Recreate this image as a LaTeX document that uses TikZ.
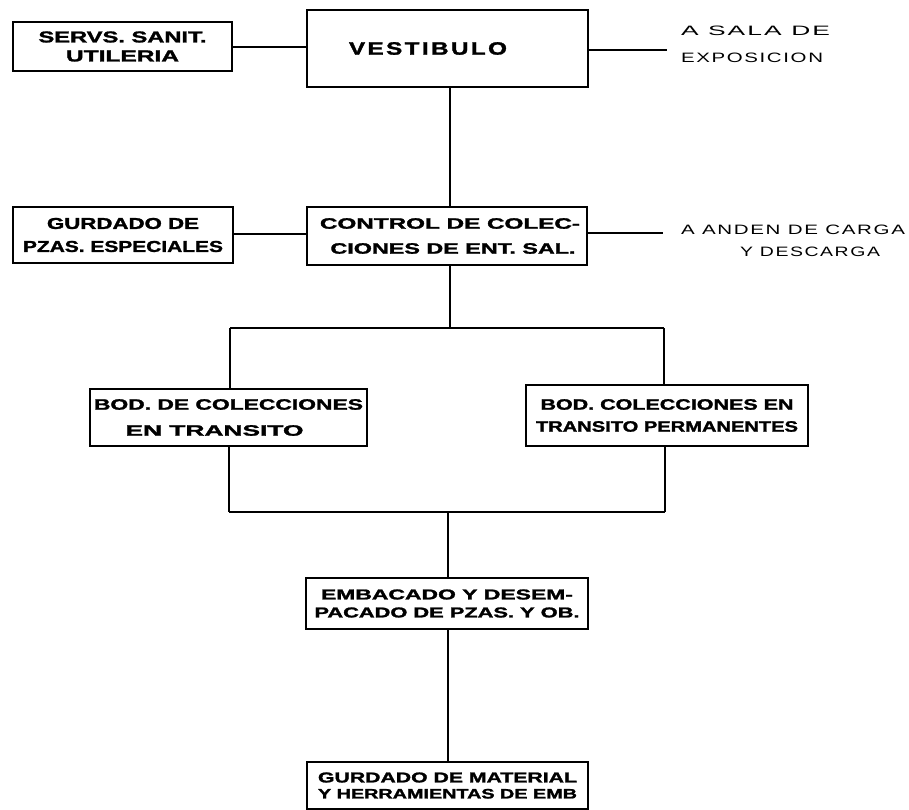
\documentclass[tikz,border=0pt]{standalone}
\usepackage{fontspec}
\usepackage{graphicx}
\newfontfamily\bxf[LetterSpace=0,FakeBold=1.5]{Liberation Sans}
\newfontfamily\vxf[LetterSpace=10,FakeBold=1.5]{Liberation Sans}
\newfontfamily\lbf[LetterSpace=8]{Liberation Sans}
\newcommand\T[3]{\resizebox{#1pt}{#2pt}{#3}}
\begin{document}
\begin{tikzpicture}[x=1pt,y=-1pt,
  box/.style={draw,line width=2.8pt,inner sep=0pt,outer sep=0pt,align=center,
    font=\bxf\bfseries},
  lbl/.style={inner sep=0pt,outer sep=0pt,align=left,anchor=west,font=\lbf},
  conn/.style={line width=1.2pt}]
\path[use as bounding box] (0,0) rectangle (909,810);

% boxes
\node[box,minimum width=219pt,minimum height=49pt,
  font=\bxf\bfseries\fontsize{10}{19}\selectfont] (serv) at (122.5,46.5)
  {\T{168}{11}{SERVS. SANIT.}\\\T{113}{11}{UTILERIA}};
\node[box,line width=2.2pt,minimum width=281pt,minimum height=77pt,font=\vxf\bfseries] (vest) at (447.5,48.5)
  {\hspace*{-39pt}\T{158}{12.5}{VESTIBULO}};
\node[box,minimum width=220pt,minimum height=56pt,
  font=\bxf\bfseries\fontsize{10}{23}\selectfont] (gurd) at (123,235)
  {\T{152}{11}{GURDADO DE}\\\T{200}{11}{PZAS. ESPECIALES}};
\node[box,minimum width=280pt,minimum height=58pt,
  font=\bxf\bfseries\fontsize{10}{25}\selectfont] (ctrl) at (447,236)
  {\hspace*{6pt}\T{260}{10.5}{CONTROL DE COLEC-}\\\hspace*{12pt}\T{245}{10.5}{CIONES DE ENT. SAL.}};
\node[box,minimum width=277pt,minimum height=57pt,
  font=\bxf\bfseries\fontsize{10}{26}\selectfont] (bod1) at (228.5,417.5)
  {\T{269}{10.5}{BOD. DE COLECCIONES}\\\hspace*{-28pt}\T{178}{10.5}{EN TRANSITO}};
\node[box,minimum width=282pt,minimum height=61pt,
  font=\bxf\bfseries\fontsize{10}{22}\selectfont] (bod2) at (667,415.5)
  {\T{253}{10.5}{BOD. COLECCIONES EN}\\\T{262}{10.5}{TRANSITO PERMANENTES}};
\node[box,minimum width=282pt,minimum height=51pt,
  font=\bxf\bfseries\fontsize{10}{18}\selectfont] (emb) at (447,603.5)
  {\T{252}{10}{EMBACADO Y DESEM-}\\\T{265}{10}{PACADO DE PZAS. Y OB.}};
\node[box,minimum width=281pt,minimum height=47pt,
  font=\bxf\bfseries\fontsize{10}{16}\selectfont] (mat) at (447.5,785.5)
  {\T{259}{10}{GURDADO DE MATERIAL}\\\T{259}{9.5}{Y HERRAMIENTAS DE EMB}};

% labels
\node[lbl,font=\lbf\fontsize{10}{27}\selectfont] (sala) at (681,44.5)
  {\T{149}{9.5}{A SALA DE}\\\T{142}{9.5}{EXPOSICION}};
\node[lbl,font=\lbf\fontsize{10}{22}\selectfont] (anden) at (681,241)
  {\T{224}{9.5}{A ANDEN DE CARGA}\\\hspace*{59pt}\T{140}{9.5}{Y DESCARGA}};

% connector points
\coordinate (salaend) at (667,50);
\coordinate (andenend) at (663,233);
\coordinate (j1) at (450,328);
\coordinate (j1l) at (230,328);
\coordinate (j1r) at (664,328);
\coordinate (j2) at (448,512);
\coordinate (j2l) at (229,512);
\coordinate (j2r) at (665,512);

% connectors
\draw[conn] (serv.east |- 0,47) -- (vest.west |- 0,47);
\draw[conn] (vest.east |- salaend) -- (salaend);
\draw[conn] (vest.south -| j1) -- (ctrl.north -| j1);
\draw[conn] (gurd.east |- 0,234) -- (ctrl.west |- 0,234);
\draw[conn] (ctrl.east |- andenend) -- (andenend);
\draw[conn] (ctrl.south -| j1) -- (j1);
\draw[conn] (j1l) -- (j1r);
\draw[conn] (j1l) -- (bod1.north -| j1l);
\draw[conn] (j1r) -- (bod2.north -| j1r);
\draw[conn] (bod1.south -| j2l) -- (j2l);
\draw[conn] (bod2.south -| j2r) -- (j2r);
\draw[conn] (j2l) -- (j2r);
\draw[conn] (j2) -- (emb.north -| j2);
\draw[conn] (emb.south -| j2) -- (mat.north -| j2);
\end{tikzpicture}
\end{document}
